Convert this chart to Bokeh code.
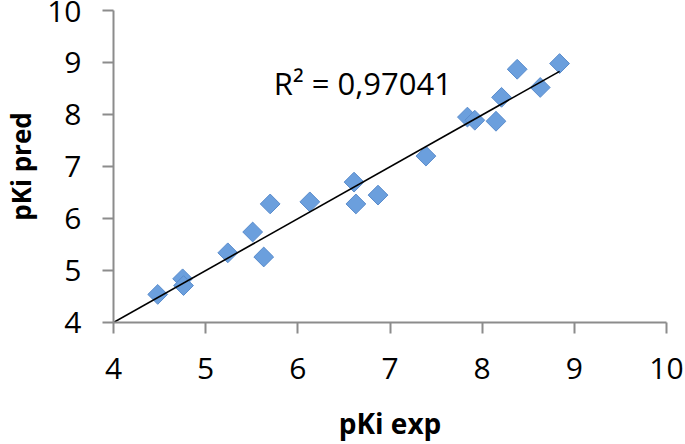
import math
from bokeh.plotting import figure
from bokeh.models import Range1d, FixedTicker, Label, ColumnDataSource
from bokeh.embed import file_html
from bokeh.resources import INLINE

# Data
pki_exp = [4.48, 4.75, 4.76, 5.24, 5.51, 5.63, 5.70, 6.13, 6.61, 6.63, 6.87,
           7.39, 7.84, 7.92, 8.15, 8.21, 8.38, 8.63, 8.84]
pki_pred = [4.54, 4.84, 4.71, 5.34, 5.74, 5.26, 6.28, 6.32, 6.70, 6.28, 6.45,
            7.20, 7.95, 7.89, 7.87, 8.33, 8.87, 8.52, 8.98]
trend_x = [4.0, 8.84]
trend_y = [4.0, 8.83]
ticks = [4, 5, 6, 7, 8, 9, 10]
r2_text = "R² = 0,97041"

FONT = "Open Sans"
AXIS_GREY = "#8c8c8c"

p = figure(width=685, height=444, output_backend="svg", toolbar_location=None,
           x_range=Range1d(4, 10), y_range=Range1d(4, 10),
           min_border_left=113, min_border_right=19,
           min_border_top=10, min_border_bottom=122)
p.styles = {"position": "absolute", "left": "0px", "top": "0px"}
p.outline_line_color = None
p.xgrid.grid_line_color = None
p.ygrid.grid_line_color = None
p.background_fill_color = "white"
p.border_fill_color = "white"

for ax in (p.xaxis[0], p.yaxis[0]):
    ax.ticker = FixedTicker(ticks=ticks)
    ax.axis_line_color = AXIS_GREY
    ax.axis_line_width = 2
    ax.major_tick_line_color = AXIS_GREY
    ax.major_tick_line_width = 2
    ax.major_tick_out = 11
    ax.major_tick_in = 0
    ax.minor_tick_line_color = None
    ax.major_label_text_font = FONT
    ax.major_label_text_font_size = "30px"
    ax.major_label_text_color = "black"
    ax.axis_label_text_font = FONT
    ax.axis_label_text_font_style = "bold"
    ax.axis_label_text_font_size = "28px"
    ax.axis_label_text_color = "black"

p.xaxis.axis_label = "pKi exp"
p.yaxis.axis_label = "pKi pred"
p.yaxis.axis_label_text_font_size = "26px"
p.xaxis.major_label_standoff = 24
p.yaxis.major_label_standoff = 21
p.xaxis.axis_label_standoff = 22
p.yaxis.axis_label_standoff = 5

src = ColumnDataSource(data=dict(x=pki_exp, y=pki_pred))
p.scatter("x", "y", source=src, marker="square", size=14, angle=math.pi / 4,
          fill_color="#6b9fdd", line_color="#5a8ccc", line_width=1)

p.line(trend_x, trend_y, line_color="black", line_width=1.6)

p.add_layout(Label(x=5.74, y=8.6, text=r2_text, text_font=FONT,
                   text_font_size="31px", text_color="black",
                   text_baseline="alphabetic", text_align="left"))

open("out.html", "w").write(file_html(p, INLINE))
